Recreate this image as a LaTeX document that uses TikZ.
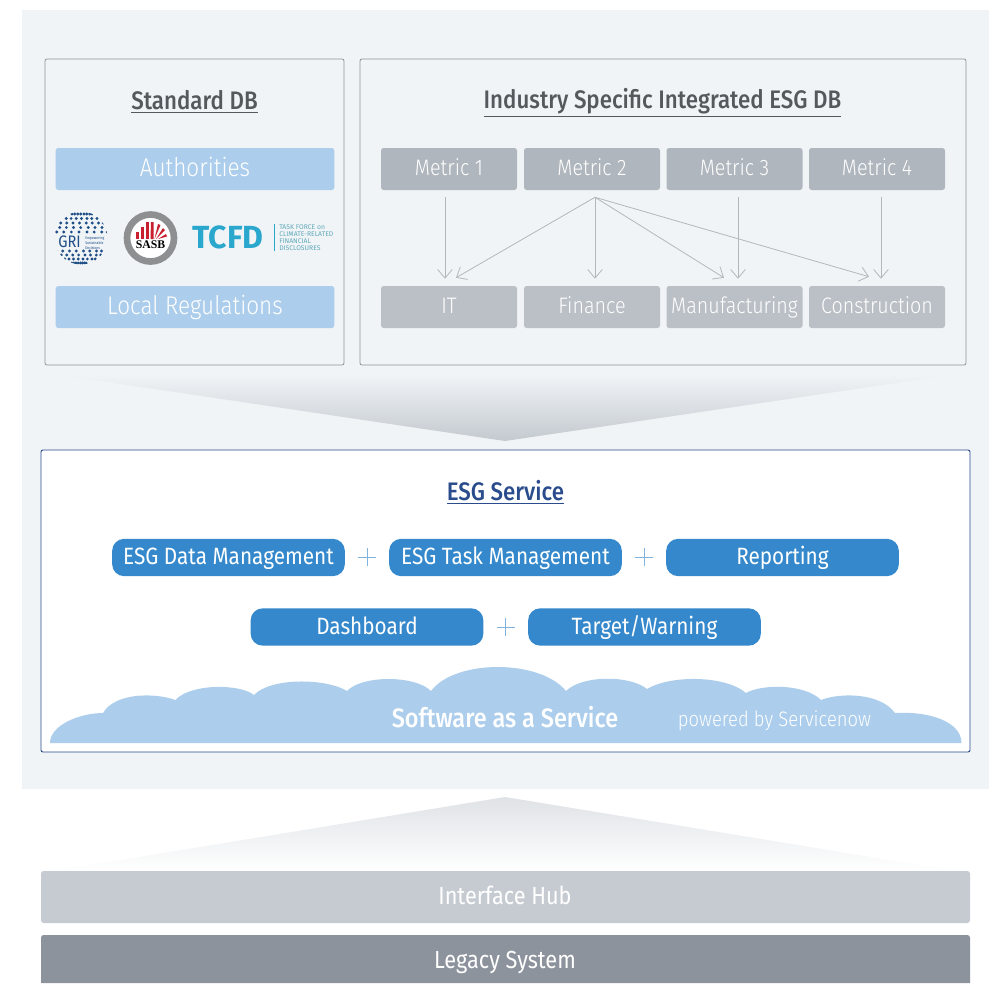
\documentclass[tikz,border=0pt]{standalone}
\usepackage{fontspec}
\setmainfont{Fira Sans}
\newfontfamily\lgt[FakeStretch=0.88]{Fira Sans Light}
\newfontfamily\reg[FakeStretch=0.88]{Fira Sans}
\newfontfamily\med[FakeStretch=0.88]{Fira Sans Medium}
\newfontfamily\sasbf{Liberation Serif}
\usetikzlibrary{arrows.meta,calc}
\definecolor{panel}{HTML}{F0F4F7}
\definecolor{lineg}{HTML}{8F959B}
\definecolor{ltblue}{HTML}{ACCEEC}
\definecolor{metricc}{HTML}{B0B6BD}
\definecolor{sectorc}{HTML}{BBC0C6}
\definecolor{arrowc}{HTML}{B4B8BD}
\definecolor{titleg}{HTML}{55585C}
\definecolor{esgb}{HTML}{2A4C8C}
\definecolor{pillc}{HTML}{3488CB}
\definecolor{plusc}{HTML}{7FB2DC}
\definecolor{hubc}{HTML}{C6CBD2}
\definecolor{legc}{HTML}{8C939C}
\definecolor{grid}{HTML}{1F4E86}
\definecolor{tcfdc}{HTML}{2AA7CC}
\definecolor{tcfdt}{HTML}{5FA8B8}
\definecolor{sasbg}{HTML}{8E8F90}
\definecolor{sasbr}{HTML}{C8202F}
\newcommand{\fs}[1]{\fontsize{#1}{#1}\selectfont}
\newcommand{\plusmark}[2]{\draw[plusc,line width=0.7pt] (#1-9,#2) -- (#1+9,#2) (#1,#2-9) -- (#1,#2+9);}
\tikzset{
  x=0.75pt,y=-0.75pt,
  tline/.style={inner sep=0pt,execute at begin node={\rule[-.25em]{0pt}{1.12em}}},
  dbbox/.style={draw=lineg,line width=0.6pt,rounded corners=1.5pt,fill=panel},
  heading/.style={tline,text=titleg,font=\med\fs{19}},
  wide/.style={tline,fill=ltblue,rounded corners=2pt,minimum width=209pt,minimum height=31.5pt,text=white,font=\lgt\fs{19.2}},
  metric/.style={tline,fill=metricc,rounded corners=2pt,minimum width=102pt,minimum height=31.5pt,text=white,font=\lgt\fs{16.8}},
  sector/.style={metric,fill=sectorc},
  link/.style={draw=arrowc,line width=0.6pt,-{Straight Barb[length=6.5pt,width=11pt]}},
  pill/.style={tline,fill=pillc,rounded corners=9pt,minimum width=174.5pt,minimum height=28pt,text=white,font=\reg\fs{17.7}},
  bandtext/.style={tline,text=white,font=\reg\fs{18.5}}
}
\begin{document}
\begin{tikzpicture}
\useasboundingbox (0,0) rectangle (989,983);
\fill[white] (0,0) rectangle (989,983);
\fill[panel] (22,10) rectangle (989,789);
% upper boxes
\draw[dbbox] (45,59) rectangle (344,365);
\draw[dbbox] (360,59) rectangle (966,365);
\node[heading] (stdt) at (194.5,102) {\underline{Standard DB}};
\node[heading] (indt) at (662.5,102) {\underline{Industry Specific Integrated ESG DB}};
\node[wide] (auth) at (195,169) {Authorities};
\node[wide] (local) at (195,307) {Local Regulations};
% GRI logo
\begin{scope}
\clip (81,238) circle (26.5);
\foreach \yy in {214,218.5,223,227.5,232}{
  \pgfmathsetmacro\hw{sqrt(max(0,26*26-(\yy-238)*(\yy-238)))}
  \foreach \t in {-1,-0.72,-0.42,-0.12,0.2,0.48,0.78,1}{
    \pgfmathsetmacro\xx{81+\t*\hw+mod(\yy,3)}
    \fill[grid] (\xx,\yy) circle (1.6);
  }
}
\foreach \yy in {251,255,259,263}{
  \pgfmathsetmacro\hw{sqrt(max(0,26*26-(\yy-238)*(\yy-238)))}
  \foreach \t in {-1,-0.72,-0.42,-0.12,0.2,0.48,0.78,1}{
    \pgfmathsetmacro\xx{81+\t*\hw-mod(\yy,3)}
    \fill[grid] (\xx,\yy) circle (1.6);
  }
}
\end{scope}
\node[text=grid,font=\reg\fs{12.5},inner sep=0pt,anchor=east] (gri) at (81,242) {GRI};
\node[text=grid,font=\reg\fontsize{2.9}{3.9}\selectfont,align=left,inner sep=0pt,anchor=west] (grit) at (85,243) {Empowering\\Sustainable\\Decisions};
% SASB logo
\fill[white] (150.5,238) circle (26);
\draw[sasbg,line width=5pt] (150.5,238) circle (23.5);
\foreach \x/\h in {136/7,141/12,146/17}{
  \fill[sasbr] (\x,239) rectangle (\x+3.2,239-\h);
}
\fill[sasbr] (150.5,239) -- (151,222) -- (153.5,222) -- (153.5,239) -- cycle;
\fill[sasbr] (154.5,239) -- (158,224) -- (160.5,225) -- cycle;
\fill[sasbr] (156,239) -- (163,228) -- (165,230) -- cycle;
\fill[sasbr] (158,239) -- (166,234) -- (167,236.5) -- cycle;
\node[font=\sasbf\bfseries\fs{8.8},text=black,inner sep=0pt] (sasb) at (150.5,244.5) {SASB};
% TCFD logo
\node[text=tcfdc,font=\bfseries\fs{24},anchor=west,inner sep=0pt] (tcfd) at (192.5,237) {TCFD};
\draw[tcfdc,line width=0.6pt] (274,224) -- (274,251);
\node[text=tcfdt,font=\fontsize{5.1}{5.2}\selectfont,anchor=west,align=left,inner sep=0pt] (tcfdx) at (279,238) {TASK FORCE on\\CLIMATE-RELATED\\FINANCIAL\\DISCLOSURES};
% metrics
\node[metric] (m1) at (449,169) {Metric 1};
\node[metric] (m2) at (592,169) {Metric 2};
\node[metric] (m3) at (734.5,169) {Metric 3};
\node[metric] (m4) at (877,169) {Metric 4};
\node[sector] (s1) at (449,307) {IT};
\node[sector] (s2) at (592,307) {Finance};
\node[sector] (s3) at (734.5,307) {Manufacturing};
\node[sector] (s4) at (877,307) {Construction};
\draw[link] ([shift={(-4,7)}]m1.south) -- ([shift={(-4,-7)}]s1.north);
\coordinate (m2o) at ([shift={(3,7)}]m2.south);
\draw[link] (m2o) -- ([shift={(7,-8)}]s1.north);
\draw[link] (m2o) -- ([shift={(3,-7)}]s2.north);
\draw[link] (m2o) -- ([shift={(-10.5,-8)}]s3.north);
\draw[link] (m2o) -- ([shift={(-8,-9)}]s4.north);
\draw[link] ([shift={(3.5,7)}]m3.south) -- ([shift={(3.5,-7)}]s3.north);
\draw[link] ([shift={(4,7)}]m4.south) -- ([shift={(4,-7)}]s4.north);
% funnels
\definecolor{funnelb}{HTML}{C4C9CF}
\definecolor{funnelt}{HTML}{DFE2E6}
\shade[top color=panel,bottom color=funnelb] (60,375) -- (950,375) -- (505,441) -- cycle;
\shade[top color=funnelt,bottom color=white] (505,797) -- (950,870) -- (60,870) -- cycle;
% ESG service
\draw[draw=esgb,fill=white,line width=0.7pt,rounded corners=1.5pt] (41,450) rectangle (970,752);
\node[tline,text=esgb,font=\med\fs{19}] (esgt) at (505.5,493) {\underline{ESG Service}};
\node[pill] (p1) at (228.5,557.5) {ESG Data Management};
\node[pill] (p2) at (505.5,557.5) {ESG Task Management};
\node[pill] (p3) at (782.5,557.5) {Reporting};
\node[pill] (p4) at (367,627) {Dashboard};
\node[pill] (p5) at (644.5,627) {Target/Warning};
\plusmark{367}{557}
\plusmark{644}{557}
\plusmark{505.5}{627}
% cloud
\fill[ltblue] (50,743) .. controls (50,725) and (80,713) .. (103,713)
 .. controls (115,692.5) and (155,692.5) .. (175.5,700)
 .. controls (190,683.5) and (240,683.5) .. (254,695)
 .. controls (270,677.7) and (325,677.7) .. (347,691)
 .. controls (362,675) and (415,675) .. (431,691)
 .. controls (455,659) and (540,659) .. (566,691)
 .. controls (582,675) and (630,675) .. (647,689)
 .. controls (670,675) and (725,675) .. (746,693)
 .. controls (762,683.8) and (805,683.8) .. (821,700)
 .. controls (840,692.5) and (880,692.5) .. (895,713)
 .. controls (930,711) and (961.5,722) .. (961.5,743) -- cycle;
\node[tline,text=white,font=\med\fs{20}] (saas) at (505,719.5) {Software as a Service};
\node[tline,text=white,font=\lgt\fs{15.7}] (pow) at (774.5,720) {powered by Servicenow};
% bands
\path[fill=hubc,rounded corners=2pt] (41,871) rectangle (970,923);
\node[bandtext] (hub) at (505,897) {Interface Hub};
\fill[legc] (41,983) [rounded corners=2pt] -- (41,935) -- (970,935) [sharp corners] -- (970,983) -- cycle;
\node[bandtext] (leg) at (505,961) {Legacy System};
\end{tikzpicture}
\end{document}
